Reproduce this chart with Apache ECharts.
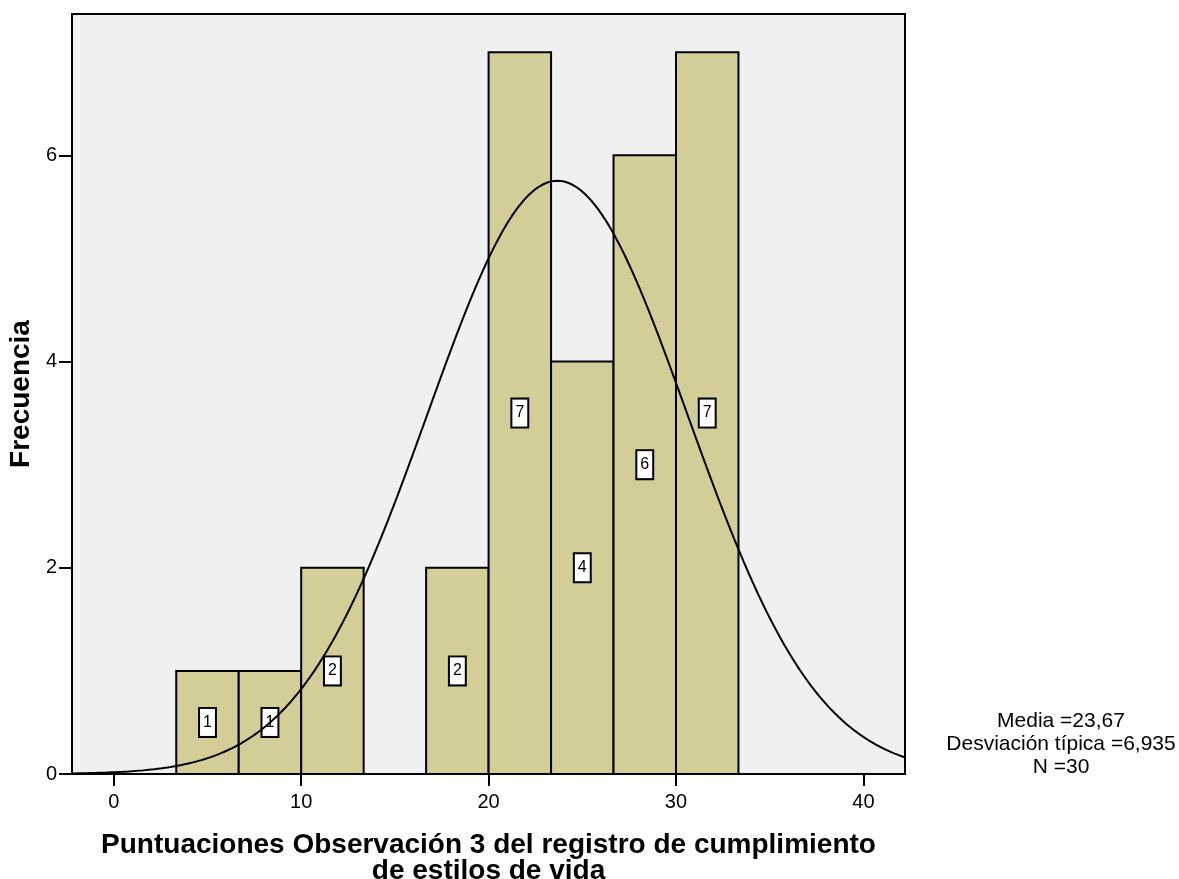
<!DOCTYPE html>
<html>
<head>
<meta charset="utf-8">
<script src="https://cdn.jsdelivr.net/npm/echarts@6/dist/echarts.min.js"></script>
<style>
  html, body { margin: 0; padding: 0; background: #ffffff; }
  #chart { width: 1179px; height: 879px; }
</style>
</head>
<body>
<div id="chart"></div>
<script>
// Histogram bins: lower edge of each bin and its frequency
const binWidth = 10 / 3;
const binLower = [10 / 3, 20 / 3, 10, 40 / 3, 50 / 3, 20, 70 / 3, 80 / 3, 30];
const binCounts = [1, 1, 2, 0, 2, 7, 4, 6, 7];

// Summary statistics of the sample (used for the fitted normal curve)
const mean = 23.67;
const stdDev = 6.935;
const sampleN = 30;
const statsLines = ['Media =23,67', 'Desviación típica =6,935', 'N =30'];

// Axis ticks
const xTicks = [0, 10, 20, 30, 40];
const yTicks = [0, 2, 4, 6];
const xRange = [-2.23, 42.22];
const yRange = [0, 7.37];

const xTitle = 'Puntuaciones Observación 3 del registro de cumplimiento\nde estilos de vida';
const yTitle = 'Frecuencia';

// Bars with their frequency (zero-count bins are not drawn)
const barData = [];
binLower.forEach((lo, i) => {
  if (binCounts[i] > 0) barData.push([lo, lo + binWidth, binCounts[i]]);
});

// Normal curve scaled to frequency: N * binWidth * pdf(x)
const curveData = [];
const scale = sampleN * binWidth / (stdDev * Math.sqrt(2 * Math.PI));
for (let x = xRange[0]; x <= xRange[1] + 1e-9; x += 0.05) {
  const z = (x - mean) / stdDev;
  curveData.push([x, scale * Math.exp(-0.5 * z * z)]);
}

const chart = echarts.init(document.getElementById('chart'));
const font = '"Liberation Sans", Arial, sans-serif';

chart.setOption({
  animation: false,
  backgroundColor: '#ffffff',
  grid: {
    left: 72, right: 274, top: 14, bottom: 105,
    outerBoundsMode: 'none',
    containLabel: false,
    show: true, backgroundColor: '#f0f0f0', borderColor: '#000', borderWidth: 2
  },
  xAxis: {
    type: 'value',
    min: xRange[0], max: xRange[1],
    name: xTitle,
    nameLocation: 'middle',
    nameGap: 58,
    nameTextStyle: { fontFamily: font, fontSize: 28, fontWeight: 'bold', color: '#000', lineHeight: 26 },
    axisLine: { show: true, onZero: false, lineStyle: { color: '#000', width: 2 } },
    axisTick: { show: true, customValues: xTicks, length: 12, lineStyle: { color: '#000', width: 2 } },
    axisLabel: { customValues: xTicks, fontFamily: font, fontSize: 20, color: '#000', margin: 18 },
    splitLine: { show: false }
  },
  yAxis: {
    type: 'value',
    min: yRange[0], max: yRange[1],
    name: yTitle,
    nameLocation: 'middle',
    nameGap: 34,
    nameTextStyle: { fontFamily: font, fontSize: 28, fontWeight: 'bold', color: '#000' },
    axisLine: { show: true, onZero: false, lineStyle: { color: '#000', width: 2 } },
    axisTick: { show: true, customValues: yTicks, length: 13, lineStyle: { color: '#000', width: 2 } },
    axisLabel: { customValues: yTicks, fontFamily: font, fontSize: 20, color: '#000', margin: 15 },
    splitLine: { show: false }
  },
  series: [
    {
      type: 'custom',
      z: 2,
      data: barData,
      encode: { x: [0, 1], y: 2 },
      renderItem: function (params, api) {
        const p0 = api.coord([api.value(0), 0]);
        const p1 = api.coord([api.value(1), api.value(2)]);
        return {
          type: 'rect',
          shape: { x: p0[0], y: p1[1], width: p1[0] - p0[0], height: p0[1] - p1[1] },
          style: { fill: '#d3ce98', stroke: '#000', lineWidth: 2 },
          textContent: {
            style: {
              text: String(api.value(2)),
              fontFamily: font, fontSize: 16, fill: '#000',
              backgroundColor: '#ffffff', borderColor: '#000', borderWidth: 2,
              padding: [6, 3, 5, 3]
            }
          },
          textConfig: { position: 'inside' }
        };
      }
    },
    {
      type: 'line',
      z: 5,
      data: curveData,
      showSymbol: false,
      smooth: false,
      lineStyle: { color: '#000', width: 2 },
      silent: true
    }
  ],
  graphic: [
    {
      type: 'text',
      x: 1061, y: 710,
      z: 10,
      style: {
        text: statsLines.join('\n'),
        fontFamily: font, fontSize: 21, lineHeight: 23,
        fill: '#000', align: 'center', verticalAlign: 'top'
      }
    }
  ]
});
</script>
</body>
</html>
